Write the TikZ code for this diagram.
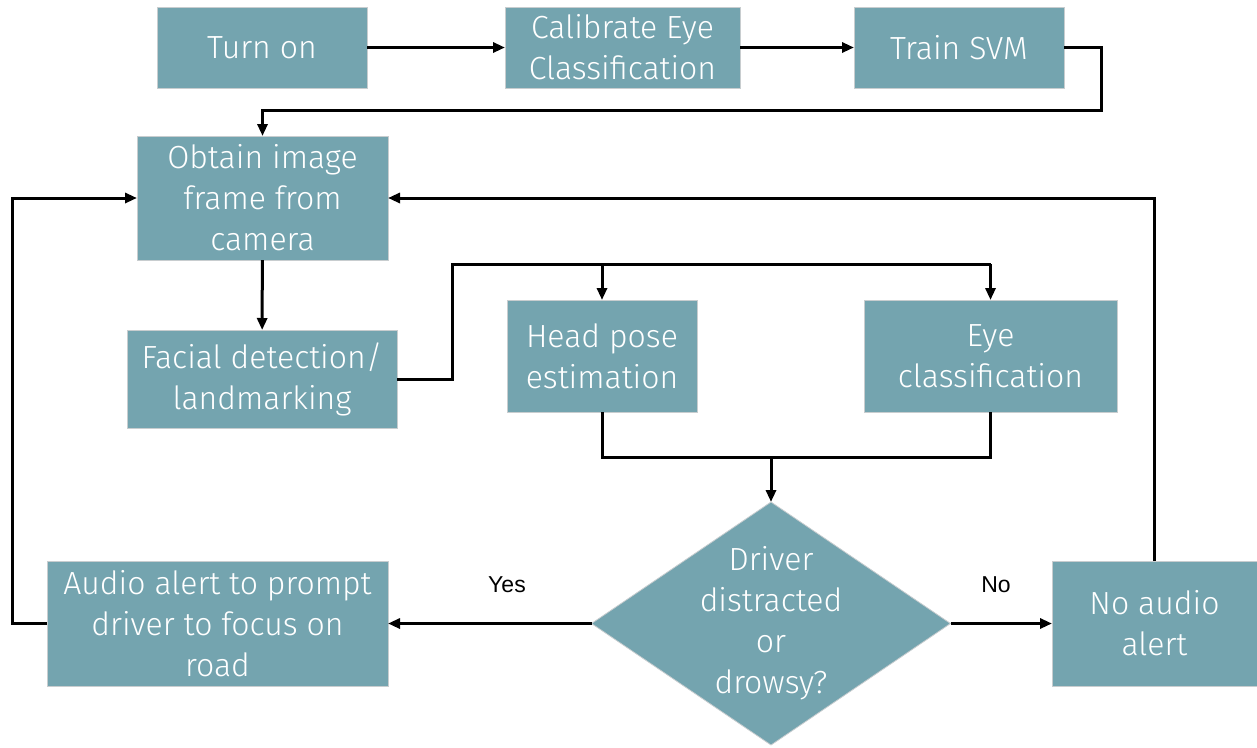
\documentclass[tikz,border=0pt]{standalone}
\usepackage{fontspec}
\setmainfont{Fira Sans Light}
\newfontfamily\labelfont{Liberation Sans}
\usetikzlibrary{arrows.meta,shapes.geometric}
\definecolor{boxfill}{HTML}{74A4AF}
\definecolor{boxedge}{HTML}{C8CDCF}
\tikzset{
  box/.style={draw=boxedge, line width=0.8pt, fill=boxfill, inner sep=0pt, outer sep=0pt,
    text=white, align=center, font=\fontsize{32}{41}\selectfont},
  decision/.style={diamond, draw=boxedge, line width=0.8pt, fill=boxfill, inner sep=0pt, outer sep=0pt,
    minimum width=359pt, minimum height=243pt},
  dtext/.style={text=white, align=center, font=\fontsize{32}{41}\selectfont},
  link/.style={line width=3pt, line join=miter},
  arr/.style={link, -{Triangle[length=12pt,width=10pt]}},
  lbl/.style={font=\labelfont\fontsize{23}{26}\selectfont}
}
\begin{document}
\begin{tikzpicture}[x=1pt,y=-1pt]
\useasboundingbox (0,0) rectangle (1257,747);

% top row
\node[box, minimum width=210pt, minimum height=81pt] (turn) at (262,47.5) {Turn on};
\node[box, minimum width=235pt, minimum height=81pt] (cal) at (622.5,47.5) {Calibrate Eye\\Classification};
\node[box, minimum width=210pt, minimum height=81pt] (svm) at (959,47.5) {Train SVM};

% processing chain
\node[box, minimum width=251pt, minimum height=124pt] (obtain) at (262.5,198) {Obtain image\\frame from\\camera};
\node[box, minimum width=270pt, minimum height=98pt] (face) at (262,379) {Facial detection/\\landmarking};
\node[box, minimum width=190pt, minimum height=112pt] (head) at (602,356) {Head pose\\estimation};
\node[box, minimum width=253pt, minimum height=112pt] (eye) at (990.5,356) {Eye\\classification};

% decision and outcomes
\node[decision] (dec) at (771,623.5) {};
\node[dtext] (dectext) at (dec.center) {Driver\\distracted\\or\\drowsy?};
\node[box, minimum width=341pt, minimum height=125pt] (alert) at (217.5,623.5) {Audio alert to prompt\\driver to focus on\\road};
\node[box, minimum width=205pt, minimum height=125pt] (noalert) at (1154.5,623.5) {No audio\\alert};

% connectors
\draw[arr] (turn) -- (cal);
\draw[arr] (cal) -- (svm);
\draw[arr] (svm.east) -- (1101,47.5) -- (1101,110) -- (obtain.north |- 0,110) -- (obtain.north);
\draw[arr] (obtain) -- (face);

\coordinate (split) at (452,264);
\draw[link] (face.east) -| (split) -- (eye.north |- split);
\draw[arr] (head.north |- split) -- (head.north);
\draw[arr] (eye.north |- split) -- (eye.north);

\coordinate (merge) at (771,457);
\draw[link] (head.south) |- (merge) -| (eye.south);
\draw[arr] (merge) -- (dec.north);

\draw[arr] (dec.west) -- (alert.east);
\draw[arr] (dec.east) -- (noalert.west);
\node[lbl] (yes) at (507,585) {Yes};
\node[lbl] (no) at (996,585) {No};

\draw[arr] (noalert.north) |- (obtain.east);
\draw[arr] (alert.west) -- (12,623.5) |- (obtain.west);
\end{tikzpicture}
\end{document}
